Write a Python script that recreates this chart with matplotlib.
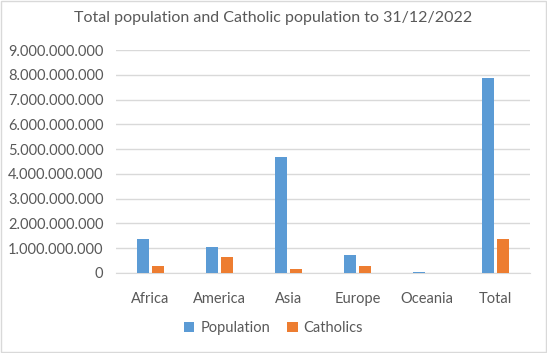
import matplotlib
matplotlib.use('Agg')
import matplotlib.pyplot as plt
import numpy as np
from matplotlib.ticker import FuncFormatter

categories = ['Africa', 'America', 'Asia', 'Europe', 'Oceania', 'Total']
population = [1.39e9, 1.04e9, 4.67e9, 0.72e9, 0.045e9, 7.85e9]
catholics = [0.27e9, 0.66e9, 0.15e9, 0.28e9, 0.011e9, 1.38e9]

plt.rcParams['font.family'] = ['Lato', 'DejaVu Sans']
grey = '#595959'

fig = plt.figure(figsize=(5.47, 3.53), dpi=100)
ax = fig.add_axes([116 / 547, 1 - 273 / 353, 414 / 547, 223 / 353])

x = np.arange(len(categories))
w = 0.17
ax.bar(x - 0.105, population, w, color='#5B9BD5', label='Population', zorder=3)
ax.bar(x + 0.105, catholics, w, color='#ED7D31', label='Catholics', zorder=3)

ax.set_xlim(-0.5, len(categories) - 0.5)
ax.set_ylim(0, 9e9)
ax.set_yticks(np.arange(0, 9.5e9, 1e9))
ax.yaxis.set_major_formatter(FuncFormatter(lambda v, p: f'{int(v):,}'.replace(',', '.')))
ax.set_xticks(x)
ax.set_xticklabels(categories)
ax.tick_params(length=0, colors=grey, labelsize=10.5)
ax.tick_params(axis='x', pad=14)
ax.tick_params(axis='y', pad=9)
ax.grid(axis='y', color='#D9D9D9', linewidth=1, zorder=0)
for s in ['top', 'right', 'left']:
    ax.spines[s].set_visible(False)
ax.spines['bottom'].set_color('#D9D9D9')

fig.text(0.5, 1 - 18 / 353, 'Total population and Catholic population to 31/12/2022',
         ha='center', va='center', fontsize=11.5, color=grey)
fig.legend(loc='center', bbox_to_anchor=(0.5, 1 - 328 / 353), ncol=2, frameon=False,
           fontsize=10.5, labelcolor=grey, handlelength=0.7, handleheight=0.7,
           handletextpad=0.4, columnspacing=1.2)

fig.patches.append(plt.Rectangle((0.002, 0.003), 0.996, 0.994, transform=fig.transFigure,
                                 fill=False, edgecolor='#D9D9D9', linewidth=1))
fig.savefig('out.png', dpi=100)
